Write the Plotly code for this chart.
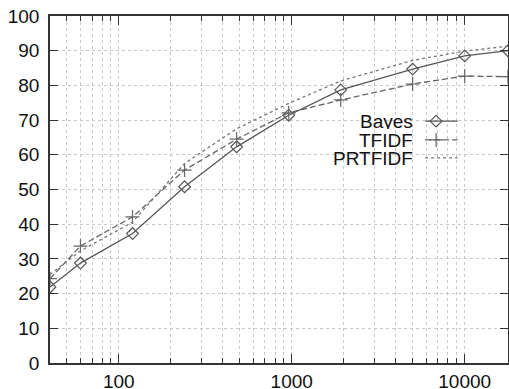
import plotly.graph_objects as go
import math

# ---- data ----
x_vals = [40, 60, 120, 240, 480, 960, 1920, 5000, 10000, 17800]
bayes = [21.9, 28.8, 37.3, 50.8, 62.3, 71.4, 78.7, 84.7, 88.5, 90.0]
tfidf = [24.3, 33.7, 42.1, 55.6, 64.5, 72.1, 75.8, 80.4, 82.7, 82.5]
prtfidf = [25.5, 32.3, 40.6, 57.5, 67.5, 74.8, 81.3, 87.2, 89.9, 91.3]

x_major = [100, 1000, 10000]
x_major_labels = ["100", "1000", "10000"]
x_minor = [v * m for v in (10, 100, 1000) for m in range(2, 10) if 40 <= v * m <= 17800]
y_ticks = list(range(0, 101, 10))

series_names = ["Bayes", "TFIDF", "PRTFIDF"]

FONT = "Liberation Sans, Arial, Helvetica, sans-serif"
AX = "#333333"
GRID = "#c8c8c8"
FS = 19

styles = [
    dict(color="#555555", dash="solid", symbol="diamond-open", msize=9),
    dict(color="#666666", dash="6px,3px", symbol="cross-thin-open", msize=10),
    dict(color="#777777", dash="3px,3px", symbol=None, msize=0),
]

fig = go.Figure()
for name, ys, st in zip(series_names, [bayes, tfidf, prtfidf], styles):
    mode = "lines+markers" if st["symbol"] else "lines"
    fig.add_trace(go.Scatter(
        x=x_vals, y=ys, name=name, mode=mode,
        line=dict(color=st["color"], width=1.3, dash=st["dash"]),
        marker=dict(symbol=st["symbol"] or "circle", size=st["msize"],
                    color=st["color"], line=dict(width=1.2, color=st["color"])),
        showlegend=False,
    ))

# ---- custom legend (text left of sample, like gnuplot) ----
leg_rows = [0.697, 0.643, 0.591]
leg_x0, leg_xm, leg_x1, leg_text_x = 0.819, 0.843, 0.890, 0.795
for name, st, ry in zip(series_names, styles, leg_rows):
    fig.add_trace(go.Scatter(
        x=[leg_x0, leg_x1], y=[ry, ry], xaxis="x2", yaxis="y2", mode="lines",
        line=dict(color=st["color"], width=1.3, dash=st["dash"]),
        showlegend=False, hoverinfo="skip"))
    if st["symbol"]:
        fig.add_trace(go.Scatter(
            x=[leg_xm], y=[ry], xaxis="x2", yaxis="y2", mode="markers",
            marker=dict(symbol=st["symbol"], size=st["msize"], color=st["color"],
                        line=dict(width=1.2, color=st["color"])),
            showlegend=False, hoverinfo="skip"))
    fig.add_annotation(x=leg_text_x, y=ry, xref="paper", yref="paper",
                       text=name, showarrow=False, xanchor="right", yanchor="middle",
                       borderpad=0, height=16, valign="middle",
                       font=dict(family=FONT, size=FS, color="#111111"))

fig.update_layout(
    width=509, height=389,
    margin=dict(l=50, r=1, t=16, b=26),
    paper_bgcolor="white", plot_bgcolor="white",
    font=dict(family=FONT, size=FS, color="#111111"),
    xaxis=dict(
        type="log", range=[math.log10(40), math.log10(17800)],
        tickmode="array", tickvals=x_major, ticktext=x_major_labels,
        ticks="inside", ticklen=9, tickwidth=1.3, tickcolor=AX,
        showline=True, linecolor=AX, linewidth=1.5, mirror="ticks",
        showgrid=True, gridcolor=GRID, griddash="dot", gridwidth=1,
        minor=dict(tickmode="array", tickvals=x_minor, ticks="inside", ticklen=5,
                   tickwidth=1.2, tickcolor=AX, showgrid=True, gridcolor=GRID,
                   griddash="dot", gridwidth=1),
        zeroline=False, automargin=False,
        tickfont=dict(size=FS, family=FONT, color="#111111"),
    ),
    yaxis=dict(
        range=[0, 100], tickmode="array", tickvals=y_ticks,
        ticks="inside", ticklen=8, tickwidth=1.3, tickcolor=AX,
        showline=True, linecolor=AX, linewidth=1.5, mirror="ticks",
        showgrid=True, gridcolor=GRID, griddash="dot", gridwidth=1,
        zeroline=False, automargin=False, ticklabelstandoff=5,
        tickfont=dict(size=FS, family=FONT, color="#111111"),
    ),
    xaxis2=dict(range=[0, 1], overlaying="x", visible=False, anchor="y2"),
    yaxis2=dict(range=[0, 1], overlaying="y", visible=False, anchor="x2"),
)

fig.write_html("out.html", config={"displayModeBar": False},
               post_script="document.body.style.margin='0';")
